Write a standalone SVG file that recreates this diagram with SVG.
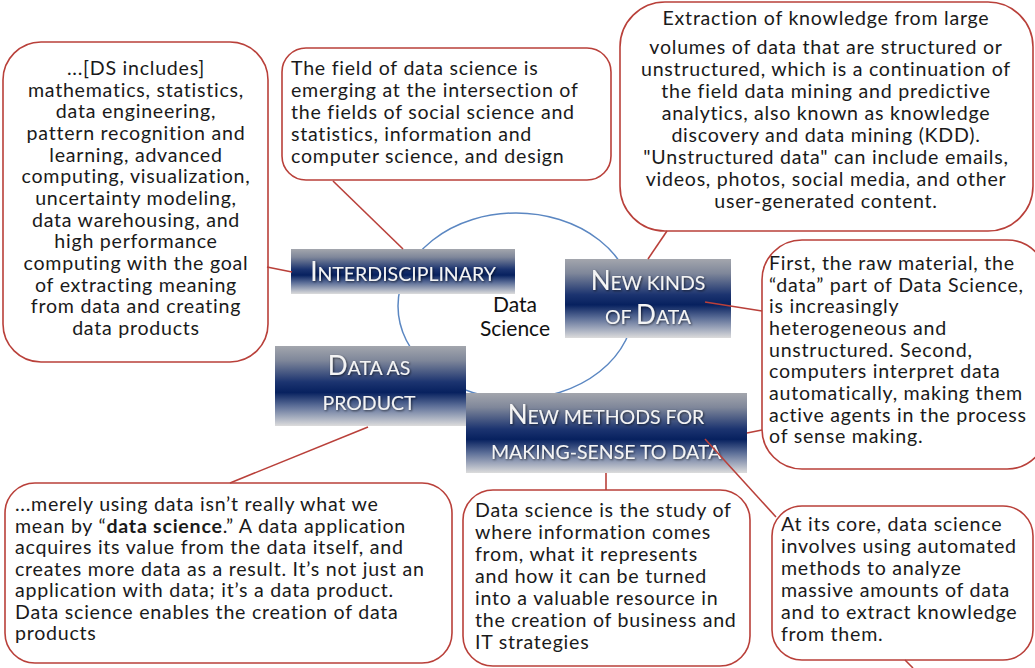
<svg xmlns="http://www.w3.org/2000/svg" width="1035" height="668" viewBox="0 0 1035 668">
<defs>
<linearGradient id="navy" x1="0" y1="0" x2="0" y2="1">
<stop offset="0" stop-color="#a3a6ad"/>
<stop offset="0.18" stop-color="#7f879a"/>
<stop offset="0.45" stop-color="#1c3470"/>
<stop offset="0.58" stop-color="#07215f"/>
<stop offset="0.75" stop-color="#5d6f98"/>
<stop offset="1" stop-color="#dcdcdc"/>
</linearGradient>
<filter id="shadow" x="-10%" y="-20%" width="120%" height="140%">
<feDropShadow dx="1" dy="1" stdDeviation="0.8" flood-color="#000" flood-opacity="0.6"/>
</filter>
<style>
.call{fill:#fff;stroke:#b9403a;stroke-width:1.6}
.con line{stroke:#b9403a;stroke-width:1.6}
.hub{fill:none;stroke:#5b87c2;stroke-width:1.5}
.t{font-family:Lato,"Noto Sans","Liberation Sans",sans-serif;font-size:19.6px;letter-spacing:0.75px;fill:#1a1a1a}
.c{text-anchor:middle}
.box{fill:url(#navy)}
.lab{font-family:Lato,"Noto Sans","Liberation Sans",sans-serif;fill:#f4f4f4;text-anchor:middle;filter:url(#shadow)}
.big{font-size:26px}
.sm{font-size:19.5px}
.hubt{font-family:Lato,"Noto Sans","Liberation Sans",sans-serif;font-size:21px;fill:#111;text-anchor:middle}
</style>
</defs>
<rect width="1035" height="668" fill="#fff"/>

<g id="hub">
<ellipse class="hub" cx="516" cy="306" rx="118" ry="93"/>
<text class="hubt" x="515" y="312">Data</text>
<text class="hubt" x="515" y="336">Science</text>
</g>

<g id="node-interdisciplinary">
<rect class="box" x="291" y="249" width="224" height="45"/>
<text class="lab" x="403" y="281"><tspan class="big">I</tspan><tspan class="sm">NTERDISCIPLINARY</tspan></text>
</g>
<g id="node-new-kinds">
<rect class="box" x="565" y="259" width="166" height="79"/>
<text class="lab" x="648" y="290"><tspan class="big">N</tspan><tspan class="sm">EW KINDS</tspan></text>
<text class="lab" x="648" y="324"><tspan class="sm">OF </tspan><tspan class="big">D</tspan><tspan class="sm">ATA</tspan></text>
</g>
<g id="node-data-product">
<rect class="box" x="275" y="346" width="191" height="80"/>
<text class="lab" x="369" y="375"><tspan class="big">D</tspan><tspan class="sm">ATA AS</tspan></text>
<text class="lab sm" x="369" y="410">PRODUCT</text>
</g>
<g id="node-new-methods">
<rect class="box" x="466" y="393" width="281" height="80"/>
<text class="lab" x="606" y="424"><tspan class="big">N</tspan><tspan class="sm">EW METHODS FOR</tspan></text>
<text class="lab sm" x="606" y="459">MAKING-SENSE TO DATA</text>
</g>

<g id="callout-ds-includes">
<rect class="call" x="3" y="42" width="265" height="320" rx="38"/>
<text class="t c" x="136"><tspan x="136" y="75">...[DS includes]</tspan><tspan x="136" y="96.7">mathematics, statistics,</tspan><tspan x="136" y="118.3">data engineering,</tspan><tspan x="136" y="140">pattern recognition and</tspan><tspan x="136" y="161.7">learning, advanced</tspan><tspan x="136" y="183.3">computing, visualization,</tspan><tspan x="136" y="205">uncertainty modeling,</tspan><tspan x="136" y="226.7">data warehousing, and</tspan><tspan x="136" y="248.3">high performance</tspan><tspan x="136" y="270">computing with the goal</tspan><tspan x="136" y="291.7">of extracting meaning</tspan><tspan x="136" y="313.3">from data and creating</tspan><tspan x="136" y="335">data products</tspan></text>
</g>

<g id="callout-field">
<rect class="call" x="282" y="48" width="329" height="132" rx="24"/>
<text class="t"><tspan x="291" y="75">The field of data science is</tspan><tspan x="291" y="97">emerging at the intersection of</tspan><tspan x="291" y="119">the fields of social science and</tspan><tspan x="291" y="141">statistics, information and</tspan><tspan x="291" y="163">computer science, and design</tspan></text>
</g>

<g id="callout-extraction">
<rect class="call" x="620" y="2" width="413" height="229" rx="45"/>
<text class="t c"><tspan x="826" y="25">Extraction of knowledge from large</tspan><tspan x="826" y="54">volumes of data that are structured or</tspan><tspan x="826" y="76">unstructured, which is a continuation of</tspan><tspan x="826" y="98">the field data mining and predictive</tspan><tspan x="826" y="120">analytics, also known as knowledge</tspan><tspan x="826" y="142">discovery and data mining (KDD).</tspan><tspan x="826" y="164">"Unstructured data" can include emails,</tspan><tspan x="826" y="186">videos, photos, social media, and other</tspan><tspan x="826" y="208">user-generated content.</tspan></text>
</g>

<g id="callout-raw-material">
<rect class="call" x="762" y="240" width="285" height="229" rx="40"/>
<text class="t"><tspan x="769" y="270">First, the raw material, the</tspan><tspan x="769" y="291.7">“data” part of Data Science,</tspan><tspan x="769" y="313.3">is increasingly</tspan><tspan x="769" y="335">heterogeneous and</tspan><tspan x="769" y="356.7">unstructured. Second,</tspan><tspan x="769" y="378.3">computers interpret data</tspan><tspan x="769" y="400">automatically, making them</tspan><tspan x="769" y="421.7">active agents in the process</tspan><tspan x="769" y="443.3">of sense making.</tspan></text>
</g>

<g id="callout-data-product">
<rect class="call" x="5" y="483" width="447" height="180" rx="30"/>
<text class="t"><tspan x="15" y="511">...merely using data isn’t really what we</tspan><tspan x="15" y="532.5">mean by “<tspan font-weight="bold">data science</tspan>.” A data application</tspan><tspan x="15" y="554">acquires its value from the data itself, and</tspan><tspan x="15" y="575.5">creates more data as a result. It’s not just an</tspan><tspan x="15" y="597">application with data; it’s a data product.</tspan><tspan x="15" y="618.5">Data science enables the creation of data</tspan><tspan x="15" y="640">products</tspan></text>
</g>

<g id="callout-study">
<rect class="call" x="463" y="490" width="287" height="176" rx="30"/>
<text class="t"><tspan x="475" y="517">Data science is the study of</tspan><tspan x="475" y="539">where information comes</tspan><tspan x="475" y="561">from, what it represents</tspan><tspan x="475" y="583">and how it can be turned</tspan><tspan x="475" y="605">into a valuable resource in</tspan><tspan x="475" y="627">the creation of business and</tspan><tspan x="475" y="649">IT strategies</tspan></text>
</g>

<g id="callout-core">
<rect class="call" x="772" y="506" width="261" height="154" rx="30"/>
<text class="t"><tspan x="781" y="531">At its core, data science</tspan><tspan x="781" y="553">involves using automated</tspan><tspan x="781" y="575">methods to analyze</tspan><tspan x="781" y="597">massive amounts of data</tspan><tspan x="781" y="619">and to extract knowledge</tspan><tspan x="781" y="641">from them.</tspan></text>
</g>

<g id="connectors" class="con">
<line x1="267" y1="267" x2="292" y2="272"/>
<line x1="333" y1="181" x2="403" y2="249"/>
<line x1="667" y1="231" x2="648" y2="259"/>
<line x1="705" y1="302" x2="762" y2="311"/>
<line x1="747" y1="433" x2="762" y2="430"/>
<line x1="705" y1="439" x2="776" y2="517"/>
<line x1="368" y1="427" x2="230" y2="483"/>
<line x1="606" y1="473" x2="606" y2="490"/>
<line x1="905" y1="660" x2="913" y2="668"/>
</g>
</svg>
